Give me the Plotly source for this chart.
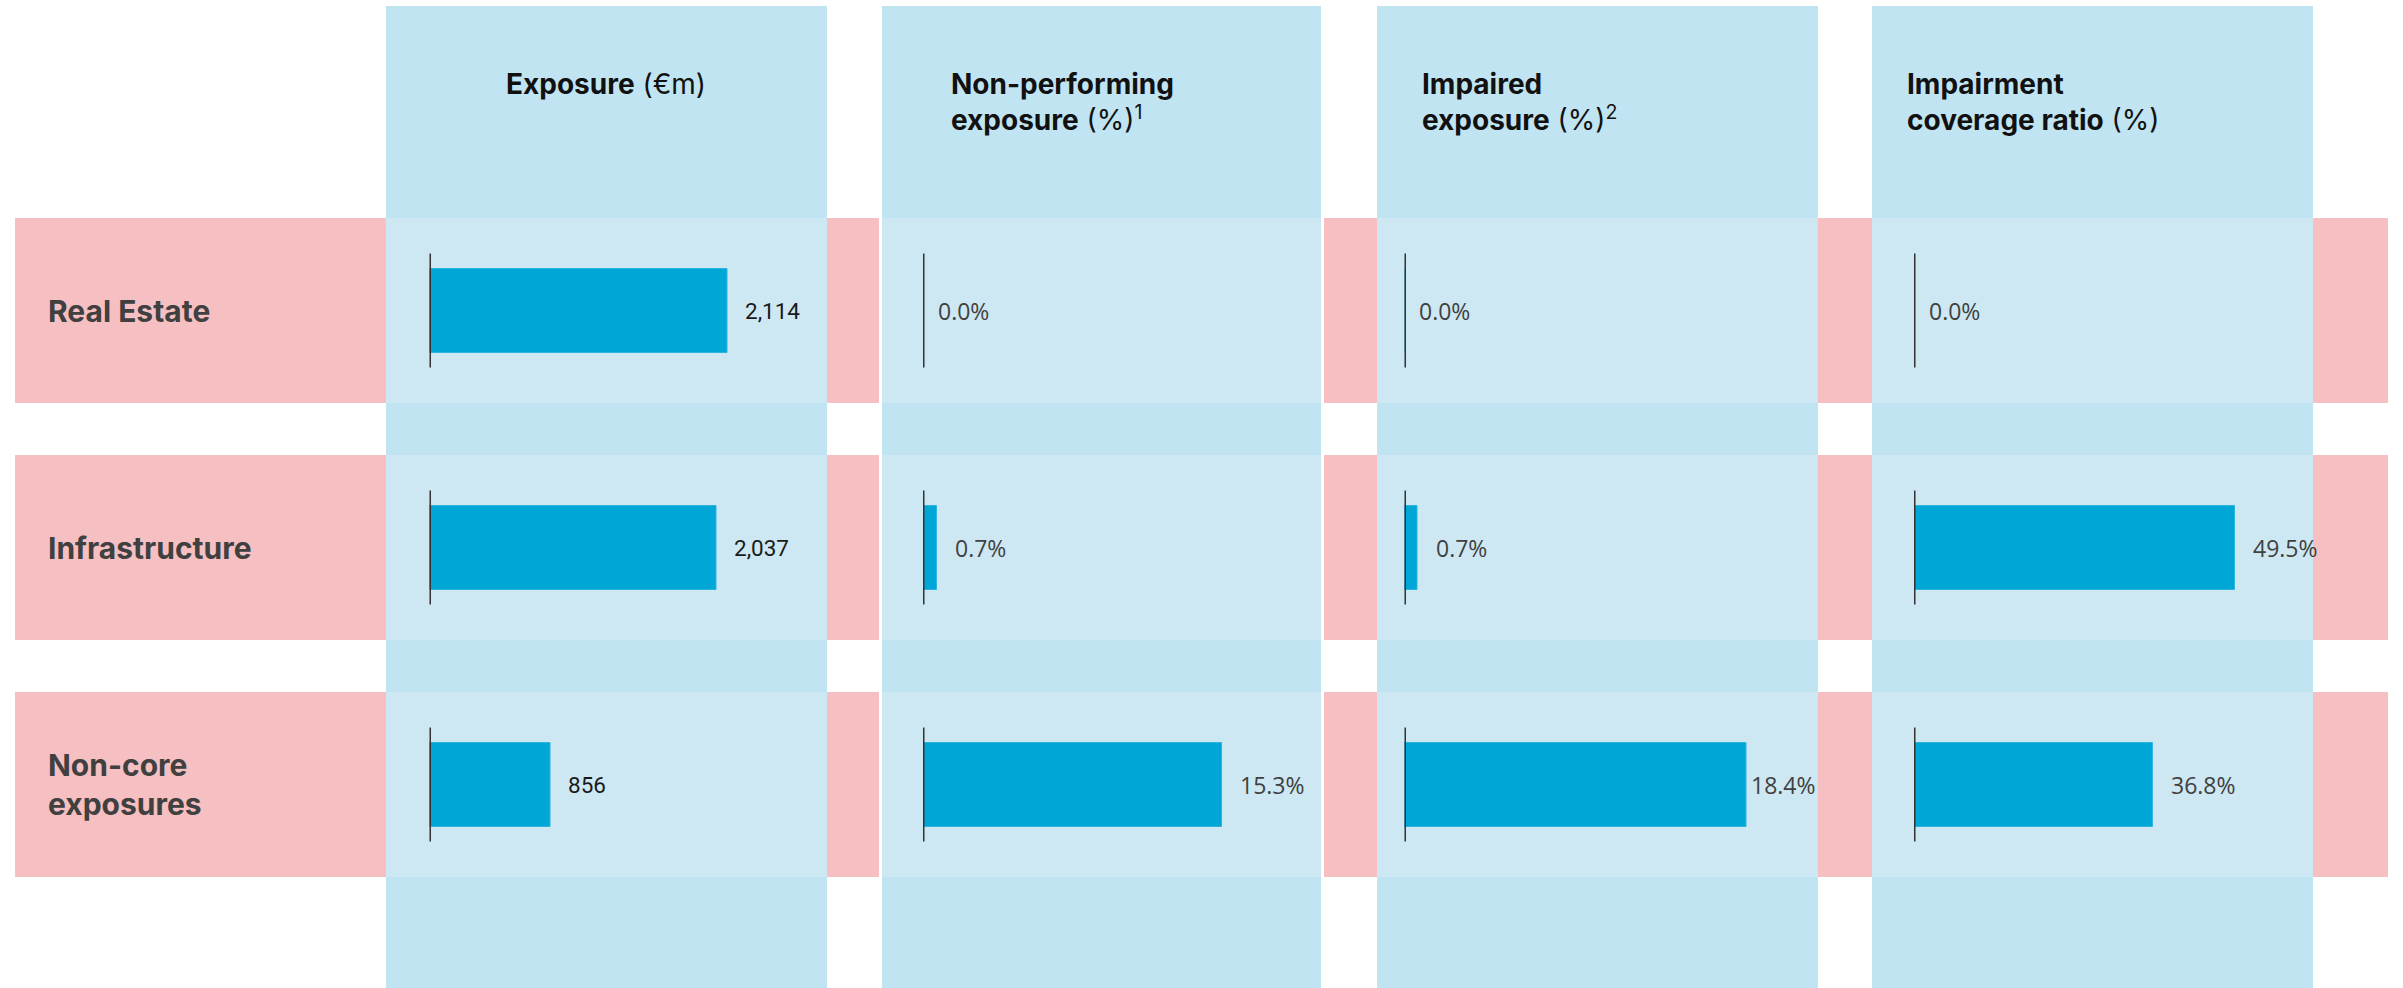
import plotly.graph_objects as go

# ---------------- data ----------------
categories = ["Real Estate", "Infrastructure", "Non-core exposures"]
category_labels = ["Real Estate", "Infrastructure", "Non-core<br>exposures"]

exposure_eur_m = [2114, 2037, 856]
non_performing_pct = [0.0, 0.7, 15.3]
impaired_pct = [0.0, 0.7, 18.4]
coverage_ratio_pct = [0.0, 49.5, 36.8]

panel_titles = [
    "<b>Exposure</b> (€m)",
    "<b>Non-performing<br>exposure</b> (%)<sup>1</sup>",
    "<b>Impaired<br>exposure</b> (%)<sup>2</sup>",
    "<b>Impairment<br>coverage ratio</b> (%)",
]

# ---------------- layout constants ----------------
W, H = 2403, 988
col_left = [386, 882, 1377, 1872]
col_right = [827, 1321, 1818, 2313]
axis_x = [429.5, 923, 1404.5, 1914]          # pixel position of each zero line
x_max = [2822, 20.37, 22.23, 61.5]           # axis ranges (set scale of bars)
title_x = [606, 949, 1420, 1905]
title_anchor = ["center", "left", "left", "left"]
row_first_center, row_pitch = 310.5, 237.0
row_half = 92.5 / row_pitch
bar_width = 84 / row_pitch
tick_half = 57 / row_pitch

PINK = "#F6BFC1"
COL_BLUE = "#C1E4F2"
INTER_BLUE = "#CDE8F3"
BAR = "#00A7D6"
BOLD_FONT = "Inter, Roboto, Arial, sans-serif"
NUM_FONTS = ["Roboto, Arial, sans-serif"] + ["Open Sans, Arial, sans-serif"] * 3
NUM_SIZES = [22.5, 23, 23, 23]

panels = [exposure_eur_m, non_performing_pct, impaired_pct, coverage_ratio_pct]
fmt = [lambda v: f"{v:,.0f}", lambda v: f"{v:.1f}%", lambda v: f"{v:.1f}%", lambda v: f"{v:.1f}%"]
label_colors = ["#1A1A1A", "#404040", "#404040", "#404040"]

def px(x):
    return x / W

def py(y):
    return 1 - y / H

fig = go.Figure()
n = len(categories)
y_idx = list(range(n))

for k, vals in enumerate(panels):
    ax = "x" if k == 0 else f"x{k+1}"
    fig.add_trace(go.Bar(
        x=vals, y=categories, orientation="h",
        xaxis=ax, yaxis="y",
        width=bar_width,
        marker=dict(color=BAR, line=dict(color="#2BB5DF", width=1)),
        hoverinfo="skip", showlegend=False,
    ))

layout_axes = {}
for k in range(4):
    name = "xaxis" if k == 0 else f"xaxis{k+1}"
    layout_axes[name] = dict(
        domain=[px(axis_x[k]), px(col_right[k])],
        range=[0, x_max[k]], visible=False, anchor="y", fixedrange=True,
    )

y_top_val = -row_first_center / row_pitch
y_bot_val = (H - row_first_center) / row_pitch

shapes = []
# pink row bands (full width)
for i in y_idx:
    shapes.append(dict(type="rect", xref="paper", yref="y",
                       x0=px(15), x1=px(2388), y0=i - row_half, y1=i + row_half,
                       fillcolor=PINK, line=dict(width=0), layer="below"))
# white edge around second column
shapes.append(dict(type="rect", xref="paper", yref="paper",
                   x0=px(col_left[1] - 3), x1=px(col_right[1] + 3), y0=0, y1=py(6),
                   fillcolor="white", line=dict(width=0), layer="below"))
# blue columns
for k in range(4):
    shapes.append(dict(type="rect", xref="paper", yref="paper",
                       x0=px(col_left[k]), x1=px(col_right[k]), y0=0, y1=py(6),
                       fillcolor=COL_BLUE, line=dict(width=0), layer="below"))
# lighter intersections
for k in range(4):
    for i in y_idx:
        shapes.append(dict(type="rect", xref="paper", yref="y",
                           x0=px(col_left[k]), x1=px(col_right[k]),
                           y0=i - row_half, y1=i + row_half,
                           fillcolor=INTER_BLUE, line=dict(width=0), layer="below"))
# zero lines
for k in range(4):
    ax = "x" if k == 0 else f"x{k+1}"
    for i in y_idx:
        shapes.append(dict(type="line", xref=ax, yref="y",
                           x0=0, x1=0, y0=i - tick_half, y1=i + tick_half,
                           line=dict(color="#333333", width=3), layer="above"))

annotations = []
# titles
for k in range(4):
    annotations.append(dict(
        text=panel_titles[k], xref="paper", yref="paper",
        x=px(title_x[k]), y=py(65), xanchor=title_anchor[k], yanchor="top",
        align="left", showarrow=False,
        font=dict(family=BOLD_FONT, size=28, color="#111111"),
    ))
# row labels
for i, lab in enumerate(category_labels):
    annotations.append(dict(
        text=f"<b>{lab}</b>", xref="paper", yref="y",
        x=px(46), y=categories[i], xanchor="left", yanchor="middle",
        align="left", showarrow=False,
        font=dict(family=BOLD_FONT, size=30, color="#404040"),
    ))
# value labels
for k, vals in enumerate(panels):
    ax = "x" if k == 0 else f"x{k+1}"
    for i, v in enumerate(vals):
        if v == 0:
            shift = 13
        elif v / x_max[k] < 0.82:
            shift = 16
        else:
            shift = 2
        annotations.append(dict(
            text=fmt[k](v), xref=ax, yref="y",
            x=v, y=categories[i], xanchor="left", yanchor="middle",
            xshift=shift, showarrow=False,
            font=dict(family=NUM_FONTS[k], size=NUM_SIZES[k], color=label_colors[k]),
        ))

fig.update_layout(
    width=W, height=H,
    margin=dict(l=0, r=0, t=0, b=0),
    paper_bgcolor="white", plot_bgcolor="rgba(0,0,0,0)",
    showlegend=False, bargap=0,
    yaxis=dict(domain=[0, 1], type="category", categoryarray=categories,
               range=[y_bot_val, y_top_val], visible=False, fixedrange=True),
    shapes=shapes, annotations=annotations,
    **layout_axes,
)

fig.write_html("out.html", config={"displayModeBar": False})
